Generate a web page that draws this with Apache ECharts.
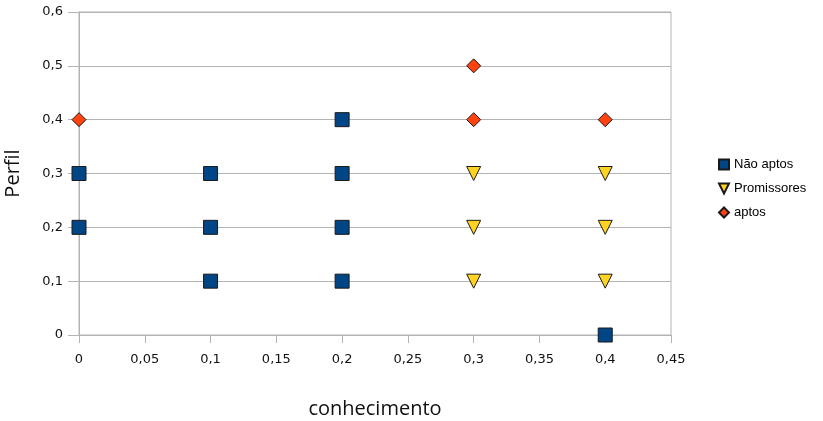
<!DOCTYPE html>
<html><head><meta charset="utf-8">
<script src="https://cdn.jsdelivr.net/npm/echarts@6/dist/echarts.min.js"></script>
<style>html,body{margin:0;padding:0;background:#fff}#c{width:823px;height:421px}</style>
</head><body><div id="c"></div>
<script>
const seriesNames = ['Não aptos', 'Promissores', 'aptos'];
const naoAptos = [[0,0.3],[0,0.2],[0.1,0.3],[0.1,0.2],[0.1,0.1],[0.2,0.4],[0.2,0.3],[0.2,0.2],[0.2,0.1],[0.4,0]];
const promissores = [[0.3,0.3],[0.3,0.2],[0.3,0.1],[0.4,0.3],[0.4,0.2],[0.4,0.1]];
const aptos = [[0,0.4],[0.3,0.5],[0.3,0.4],[0.4,0.4]];
const xTitle = 'conhecimento';
const yTitle = 'Perfil';

const fmt = v => parseFloat(v.toFixed(2)).toString().replace('.', ',');
const tri = 'path://M0,0 L10,0 L5,10 Z';
const chart = echarts.init(document.getElementById('c'), null, {renderer: 'canvas'});
const font = 'Liberation Sans, Arial, sans-serif';
const tickFont = 'DejaVu Sans, Verdana, sans-serif';
const titleFont = 'Open Sans, sans-serif';
chart.setOption({
  animation: false,
  textStyle: {fontFamily: font},
  grid: {left: 79, right: 152, top: 12, bottom: 86, outerBoundsMode: 'none', containLabel: false,
         show: true, borderColor: '#b3b3b3', borderWidth: 1},
  legend: {
    orient: 'vertical', left: 713, top: 153, itemWidth: 10, itemHeight: 10, itemGap: 11,
    textStyle: {fontSize: 13, color: '#000', fontFamily: font},
    data: [
      {name: seriesNames[0], icon: 'rect'},
      {name: seriesNames[1], icon: tri},
      {name: seriesNames[2], icon: 'diamond'}
    ]
  },
  xAxis: {
    type: 'value', min: 0, max: 0.45, interval: 0.05,
    name: xTitle, nameLocation: 'middle', nameGap: 64,
    nameTextStyle: {fontSize: 20, color: '#111', fontFamily: titleFont},
    axisLine: {lineStyle: {color: '#b3b3b3'}},
    axisTick: {show: true, length: 8, lineStyle: {color: '#b3b3b3'}},
    axisLabel: {formatter: fmt, fontSize: 13, color: '#111', margin: 18, fontFamily: tickFont},
    splitLine: {show: false}
  },
  yAxis: {
    type: 'value', min: 0, max: 0.6, interval: 0.1,
    name: yTitle, nameLocation: 'middle', nameGap: 56, nameRotate: 90,
    nameTextStyle: {fontSize: 20, color: '#111', fontFamily: titleFont},
    axisLine: {show: true, lineStyle: {color: '#b3b3b3'}},
    axisTick: {show: true, length: 11, lineStyle: {color: '#b3b3b3'}},
    axisLabel: {formatter: fmt, fontSize: 13, color: '#111', margin: 16, fontFamily: tickFont},
    splitLine: {show: true, lineStyle: {color: '#b3b3b3'}}
  },
  series: [
    {name: seriesNames[0], type: 'scatter', data: naoAptos, symbol: 'rect', symbolSize: 14,
     itemStyle: {color: '#004586', borderColor: '#1a1a1a', borderWidth: 1, opacity: 1}},
    {name: seriesNames[1], type: 'scatter', data: promissores, symbol: tri, symbolSize: 14,
     itemStyle: {color: '#ffd320', borderColor: '#1a1a1a', borderWidth: 1, opacity: 1}},
    {name: seriesNames[2], type: 'scatter', data: aptos, symbol: 'diamond', symbolSize: 14,
     itemStyle: {color: '#ff420e', borderColor: '#1a1a1a', borderWidth: 1, opacity: 1}}
  ]
});
</script></body></html>
